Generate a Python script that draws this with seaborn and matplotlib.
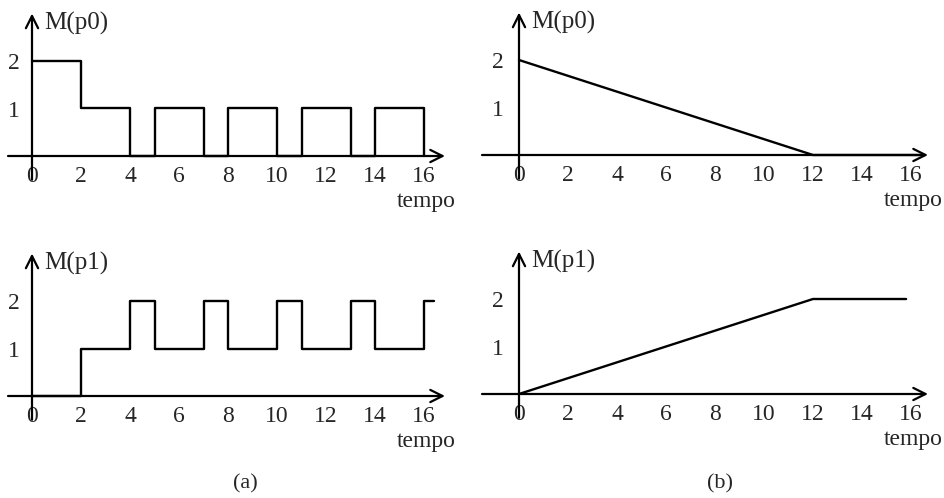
import numpy as np
import pandas as pd
import seaborn as sns
import matplotlib.pyplot as plt

# marking of p0 / p1 over time, (a) discrete firing, (b) continuous flow
a_t0 = [0, 2, 4, 5, 7, 8, 10, 11, 13, 14, 16]
a_p0 = [2, 1, 0, 1, 0, 1, 0, 1, 0, 1, 0]
a_t1 = [0, 2, 4, 5, 7, 8, 10, 11, 13, 14, 16, 16.4]
a_p1 = [0, 1, 2, 1, 2, 1, 2, 1, 2, 1, 2, 2]

b_t0 = [0, 12, 16.5]
b_p0 = [2, 0, 0]
b_t1 = [0, 12, 15.8]
b_p1 = [0, 2, 2]

x_ticks = [0, 2, 4, 6, 8, 10, 12, 14, 16]
y_ticks = [1, 2]

sns.set_theme(style="white")
plt.rcParams['font.family'] = ['Liberation Serif', 'DejaVu Serif']

W, H = 944, 498
fig = plt.figure(figsize=(W / 100, H / 100), dpi=100)
fig.patch.set_facecolor("white")

SX, SY = 24.5, 47.5  # pixels per unit
FS = 17


def make_panel(box, origin, t, v, ylabel, x_end_px, ylab_pad):
    # box = (left, top, right, bottom) in pixels, origin = pixel of (0, 0)
    l, t_px, r, b = box
    ox, oy = origin
    ax = fig.add_axes([l / W, 1 - b / H, (r - l) / W, (b - t_px) / H])
    ax.set_xlim((l - ox) / SX, (r - ox) / SX)
    ax.set_ylim(-(b - oy) / SY, (oy - t_px) / SY)
    ax.set_facecolor("none")

    df = pd.DataFrame({"t": t, "m": v})
    sns.lineplot(data=df, x="t", y="m", ax=ax, color="black", lw=1.7,
                 drawstyle=ylabel[1], sort=False, estimator=None)

    for s in ax.spines.values():
        s.set_visible(False)
    ax.spines['bottom'].set_position(('data', 0))
    ax.spines['left'].set_position(('data', 0))

    # axes drawn as arrows
    x_end = (x_end_px - ox) / SX
    ax.annotate("", xy=(x_end, 0), xytext=((l + 8 - ox) / SX, 0),
                arrowprops=dict(arrowstyle="->", lw=1.6, color="black",
                                mutation_scale=22, shrinkA=0, shrinkB=0))
    ax.annotate("", xy=(0, 3.0), xytext=(0, -0.5),
                arrowprops=dict(arrowstyle="->", lw=1.6, color="black",
                                mutation_scale=22, shrinkA=0, shrinkB=0))

    ax.set_xticks(x_ticks)
    ax.set_xticklabels([str(k) for k in x_ticks], fontsize=FS)
    ax.set_yticks(y_ticks)
    ax.set_yticklabels([str(k) for k in y_ticks], fontsize=FS)
    ax.tick_params(axis="x", length=0, pad=7)
    ax.tick_params(axis="y", length=0, pad=ylab_pad)
    ax.set_xlabel("")
    ax.set_ylabel("")

    ax.text(0.5, 2.8, ylabel[0], fontsize=FS + 1, ha="left", va="center")
    ax.text(17.3, -0.95, "tempo", fontsize=FS, ha="right", va="center")
    return ax


make_panel((0, 0, 470, 215), (32, 156), a_t0, a_p0, ("M(p0)", "steps-post"), 445, 9)
make_panel((0, 240, 470, 455), (32, 396), a_t1, a_p1, ("M(p1)", "steps-post"), 445, 9)
make_panel((474, 0, 944, 215), (519, 155), b_t0, b_p0, ("M(p0)", "default"), 928, 11)
make_panel((474, 240, 944, 455), (519, 394), b_t1, b_p1, ("M(p1)", "default"), 928, 11)

fig.text(245 / W, 1 - 484 / H, "(a)", fontsize=16, ha="center", va="center")
fig.text(720 / W, 1 - 484 / H, "(b)", fontsize=16, ha="center", va="center")

fig.savefig("out.png", dpi=100, facecolor="white")
